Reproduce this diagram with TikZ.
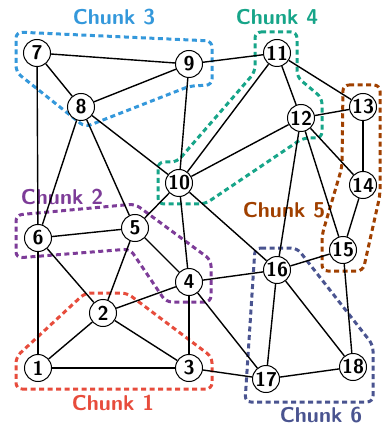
\documentclass[tikz,border=0pt]{standalone}
\usetikzlibrary{calc}
\definecolor{cred}{HTML}{E74C3C}
\definecolor{cpurple}{HTML}{7D3C98}
\definecolor{cblue}{HTML}{3498DB}
\definecolor{cteal}{HTML}{17A589}
\definecolor{cbrown}{HTML}{A04000}
\definecolor{cnavy}{HTML}{4A5490}
\begin{document}
\begin{tikzpicture}[x=1pt,y=-1pt,
  vtx/.style={circle,draw=black,line width=1pt,fill=white,minimum size=27pt,inner sep=0pt,
    font=\sffamily\bfseries\fontsize{20}{20}\selectfont},
  edge/.style={line width=1.4pt,black},
  chunk/.style={line width=3pt,rounded corners=6pt,dash pattern=on 5pt off 3.5pt},
  clabel/.style={font=\sffamily\bfseries\fontsize{21.5}{21.5}\selectfont,inner sep=0pt}]
\useasboundingbox (0,0) rectangle (382,427);
% chunk outlines
\draw[chunk,cred] (16,389) -- (212,389) -- (212,357) -- (127,293) -- (85,293) -- (16,357) -- cycle;
\draw[chunk,cpurple] (16,258) -- (130,249) -- (166,302) -- (211,302) -- (211,260) -- (135,204) -- (16,215) -- cycle;
\draw[chunk,cblue] (16,32) -- (212,41) -- (212,85) -- (190,86) -- (85,127) -- (16,72) -- cycle;
\draw[chunk,cteal] (255,32) -- (297,32) -- (297,77) -- (322,98) -- (322,138) -- (303,138) -- (205,204) -- (158,204) -- (158,162) -- (177,162) -- (255,72) -- cycle;
\draw[chunk,cbrown] (343,85) -- (380,85) -- (380,195) -- (363,271) -- (322,271) -- (322,235) -- (342,167) -- cycle;
\draw[chunk,cnavy] (255,248) -- (297,248) -- (373,345) -- (373,402) -- (245,402) -- cycle;
% labels
\node[clabel,text=cblue] (l3) at (114,17) {Chunk 3};
\node[clabel,text=cteal] (l4) at (277,17) {Chunk 4};
\node[clabel,text=cpurple] (l2) at (62,197) {Chunk 2};
\node[clabel,text=cbrown] (l5) at (284,210) {Chunk 5};
\node[clabel,text=cred] (l1) at (113,403) {Chunk 1};
\node[clabel,text=cnavy] (l6) at (321,415) {Chunk 6};
% vertices
\node[vtx] (n1) at (38,368) {1};
\node[vtx] (n2) at (103,313) {2};
\node[vtx] (n3) at (189,368) {3};
\node[vtx] (n4) at (189,282) {4};
\node[vtx] (n5) at (135,228) {5};
\node[vtx] (n6) at (38,238) {6};
\node[vtx] (n7) at (37,53) {7};
\node[vtx] (n8) at (81,107) {8};
\node[vtx] (n9) at (189,64) {9};
\node[vtx] (n10) at (179,183) {10};
\node[vtx] (n11) at (277,53) {11};
\node[vtx] (n12) at (301,118) {12};
\node[vtx] (n13) at (363,107) {13};
\node[vtx] (n14) at (363,185) {14};
\node[vtx] (n15) at (343,250) {15};
\node[vtx] (n16) at (277,270) {16};
\node[vtx] (n17) at (266,379) {17};
\node[vtx] (n18) at (353,367) {18};
% edges
\foreach \a/\b in {7/9,7/8,8/9,9/11,7/6,6/1,8/6,8/5,8/10,9/10,10/11,10/12,10/5,10/4,10/16,
  11/12,11/13,12/13,12/14,12/16,12/15,13/14,14/15,15/16,15/18,16/4,16/17,16/18,17/18,17/3,17/4,
  6/5,6/2,5/2,5/4,4/2,4/3,2/1,2/3,1/3}
  \draw[edge] (n\a) -- (n\b);
\end{tikzpicture}
\end{document}
